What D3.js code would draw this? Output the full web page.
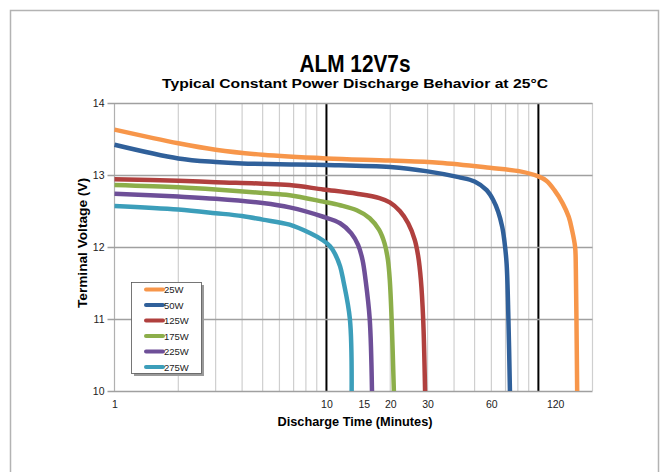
<!DOCTYPE html>
<html>
<head>
<meta charset="utf-8">
<script src="https://cdn.jsdelivr.net/npm/d3@7"></script>
<style>
  body { margin: 0; background: #fff; }
  svg { display: block; font-family: "Liberation Sans", Arial, sans-serif; }
</style>
</head>
<body>
<svg id="chart" width="668" height="472"></svg>
<script>
// series labels and colours
let seriesNames = ["25W", "50W", "125W", "175W", "225W", "275W"];
let seriesColors = ["#F7964A", "#30609A", "#B0403E", "#8CAE4A", "#6E4F98", "#3C9EBA"];

// discharge time (minutes) and terminal voltage for each curve
let time25 = [1, 2, 3, 5, 10, 20, 34, 59, 82, 100, 109, 119, 130, 139, 144, 149, 150.2, 151.2, 152.4];
let volt25 = [13.63, 13.44, 13.35, 13.28, 13.23, 13.2, 13.17, 13.1, 13.05, 12.98, 12.92, 12.79, 12.61, 12.42, 12.24, 12.0, 11.7, 11.0, 10.0];
let time50 = [1, 2, 3, 4, 6, 10, 20, 30, 42, 50, 57, 61.3, 64.6, 67.5, 69, 70.8, 72.2, 73.4];
let volt50 = [13.42, 13.23, 13.18, 13.16, 13.15, 13.14, 13.11, 13.05, 12.97, 12.91, 12.79, 12.65, 12.49, 12.28, 12.1, 11.77, 11.0, 10.0];
let time125 = [1, 2, 3, 5, 6.7, 9.65, 13.9, 17.8, 19.9, 22.2, 24.3, 26.1, 27.1, 27.9, 28.6, 29.2];
let volt125 = [12.94, 12.92, 12.9, 12.88, 12.86, 12.8, 12.74, 12.68, 12.62, 12.5, 12.33, 12.1, 11.87, 11.54, 11.0, 10.0];
let time175 = [1, 2, 3, 5, 6.7, 9.65, 11.6, 13.9, 16, 17.7, 18.8, 19.5, 19.9, 20.3, 20.8];
let volt175 = [12.86, 12.83, 12.8, 12.75, 12.72, 12.63, 12.58, 12.51, 12.4, 12.24, 12.05, 11.82, 11.54, 11.0, 10.0];
let time225 = [1, 2, 3, 5, 6.7, 9.65, 11.6, 13.1, 14.1, 14.8, 15.3, 16.0, 16.4];
let volt225 = [12.74, 12.7, 12.67, 12.61, 12.55, 12.42, 12.33, 12.19, 12.03, 11.82, 11.54, 11.0, 10.0];
let time275 = [1, 2, 3, 4, 5, 6.7, 8.4, 9.65, 10.4, 10.95, 11.6, 12.0, 12.9, 13.15];
let volt275 = [12.57, 12.52, 12.47, 12.43, 12.38, 12.31, 12.19, 12.09, 12.01, 11.91, 11.73, 11.54, 11.0, 10.0];

let allTimes = [time25, time50, time125, time175, time225, time275];
let allVolts = [volt25, volt50, volt125, volt175, volt225, volt275];

// axis ticks
let xTickLabels = [1, 10, 15, 20, 30, 60, 120];
let xGrid = [2, 3, 4, 5, 6, 7, 8, 9, 20, 30, 40, 50, 60, 70, 80, 90, 180];
let xMajor = [10, 100];
let yTicks = [10, 11, 12, 13, 14];

let svg = d3.select("#chart");

let x = d3.scaleLog().domain([1, 180]).range([114.5, 592.5]);
let y = d3.scaleLinear().domain([10, 14]).range([391, 103]);

// outer frame
svg.append("rect")
  .attr("x", 10.5).attr("y", 10.5)
  .attr("width", 648).attr("height", 480)
  .attr("fill", "none").attr("stroke", "#b3b3b3").attr("stroke-width", 1.5);

// titles
svg.append("text")
  .attr("x", 355).attr("y", 72)
  .attr("text-anchor", "middle")
  .attr("font-size", 23).attr("font-weight", "bold")
  .attr("textLength", 111).attr("lengthAdjust", "spacingAndGlyphs")
  .text("ALM 12V7s");

svg.append("text")
  .attr("x", 355).attr("y", 88)
  .attr("text-anchor", "middle")
  .attr("font-size", 12.5).attr("font-weight", "bold")
  .attr("textLength", 386).attr("lengthAdjust", "spacingAndGlyphs")
  .text("Typical Constant Power Discharge Behavior at 25°C");

// vertical grid
let grid = svg.append("g");
grid.selectAll(".vg")
  .data(xGrid)
  .join("line")
  .attr("x1", d => x(d)).attr("x2", d => x(d))
  .attr("y1", y(14)).attr("y2", y(10))
  .attr("stroke", "#cfcfcf").attr("stroke-width", 1.2);

grid.append("line")
  .attr("x1", x(1)).attr("x2", x(1))
  .attr("y1", y(14)).attr("y2", y(10))
  .attr("stroke", "#b0b0b0").attr("stroke-width", 1.2);

// horizontal grid (through y axis ticks)
let yAxis = d3.axisLeft(y)
  .tickValues(yTicks)
  .tickSize(-(x(180) - x(1)))
  .tickPadding(10)
  .tickFormat(d3.format("d"));

let yg = svg.append("g")
  .attr("transform", "translate(" + x(1) + ",0)")
  .call(yAxis);
yg.select(".domain").remove();
yg.selectAll(".tick line")
  .attr("x1", -7)
  .attr("stroke", "#a0a0a0").attr("stroke-width", 1.4);
yg.selectAll(".tick text")
  .attr("font-size", 10.5).attr("fill", "#222")
  .attr("font-family", "Liberation Sans, Arial, sans-serif");

// black lines at 10 and 100 minutes
grid.selectAll(".vm")
  .data(xMajor)
  .join("line")
  .attr("x1", d => x(d)).attr("x2", d => x(d))
  .attr("y1", y(14)).attr("y2", y(10))
  .attr("stroke", "#000").attr("stroke-width", 2);

// x axis labels
let xAxis = d3.axisBottom(x)
  .tickValues(xTickLabels)
  .tickSize(0)
  .tickPadding(10)
  .tickFormat(d3.format("d"));

let xg = svg.append("g")
  .attr("transform", "translate(0," + y(10) + ")")
  .call(xAxis);
xg.select(".domain").remove();
xg.selectAll(".tick text")
  .attr("font-size", 10.5).attr("fill", "#222")
  .attr("font-family", "Liberation Sans, Arial, sans-serif");

// curves
let line = d3.line()
  .x(d => x(d[0]))
  .y(d => y(d[1]))
  .curve(d3.curveCatmullRom.alpha(0.5));

let curves = seriesNames.map((name, i) => ({
  name: name,
  color: seriesColors[i],
  points: allTimes[i].map((t, j) => [t, allVolts[i][j]])
}));

svg.append("g")
  .selectAll("path")
  .data(curves)
  .join("path")
  .attr("d", d => line(d.points))
  .attr("fill", "none")
  .attr("stroke", d => d.color)
  .attr("stroke-width", 4.5);

// axis titles
svg.append("text")
  .attr("x", 355).attr("y", 426)
  .attr("text-anchor", "middle")
  .attr("font-size", 12.5).attr("font-weight", "bold")
  .attr("textLength", 155).attr("lengthAdjust", "spacingAndGlyphs")
  .text("Discharge Time (Minutes)");

svg.append("text")
  .attr("transform", "translate(87,243) rotate(-90)")
  .attr("text-anchor", "middle")
  .attr("font-size", 12.5).attr("font-weight", "bold")
  .attr("textLength", 130).attr("lengthAdjust", "spacingAndGlyphs")
  .text("Terminal Voltage (V)");

// legend
let legend = svg.append("g").attr("transform", "translate(131,282)");
legend.append("rect")
  .attr("x", 3).attr("y", 3)
  .attr("width", 70).attr("height", 91)
  .attr("fill", "#9a9a9a");
legend.append("rect")
  .attr("x", 0.5).attr("y", 0.5)
  .attr("width", 70).attr("height", 91)
  .attr("fill", "#fff").attr("stroke", "#555").attr("stroke-width", 0.8);

let items = legend.selectAll(".item")
  .data(curves)
  .join("g")
  .attr("transform", (d, i) => "translate(0," + (7.5 + i * 15.5) + ")");
items.append("line")
  .attr("x1", 15).attr("x2", 32)
  .attr("stroke", d => d.color)
  .attr("stroke-width", 4)
  .attr("stroke-linecap", "round");
items.append("text")
  .attr("x", 33).attr("y", 3.5)
  .attr("font-size", 9.5)
  .attr("fill", "#222")
  .text(d => d.name);
</script>
</body>
</html>
